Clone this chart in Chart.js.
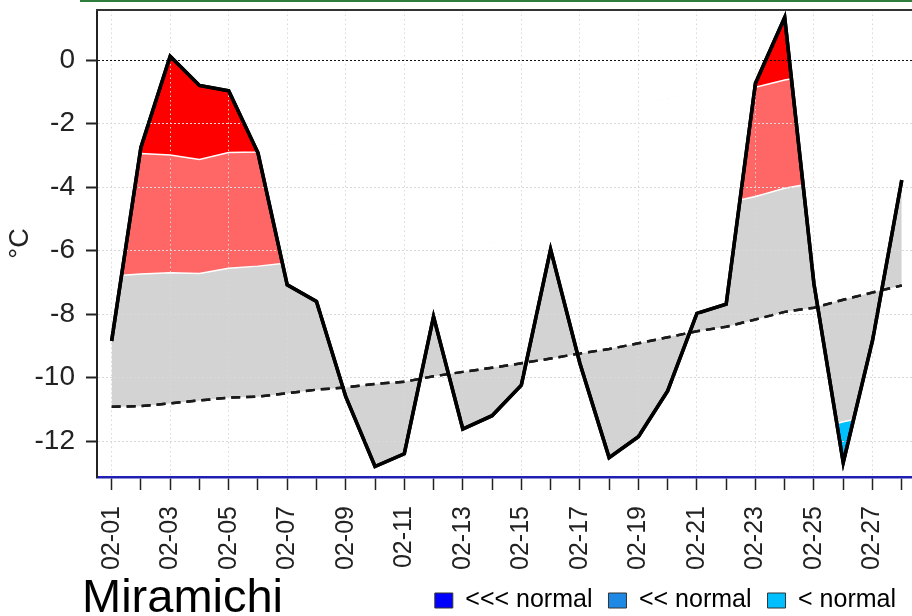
<!DOCTYPE html>
<html>
<head>
<meta charset="utf-8">
<script src="https://cdn.jsdelivr.net/npm/chart.js@4.4.1/dist/chart.umd.min.js"></script>
<style>
  body { margin: 0; background: #fff; }
  #wrap { position: relative; width: 912px; height: 616px; overflow: hidden; }
  #temp-chart { display: block; }
  #topline { position: absolute; left: 80px; right: 0; top: 0; height: 2px; background: #2e7d3a; }
  #station { position: absolute; left: 82px; top: 572px; font: 47px/47px 'Liberation Sans', Arial, sans-serif; color: #000; }
</style>
</head>
<body>
<div id="wrap">
  <canvas id="temp-chart" width="912" height="616"></canvas>
  <div id="topline"></div>
  <div id="station">Miramichi</div>
</div>
<script>
// days of february
var dayLabels = ["02-01", "02-02", "02-03", "02-04", "02-05", "02-06", "02-07",
  "02-08", "02-09", "02-10", "02-11", "02-12", "02-13", "02-14",
  "02-15", "02-16", "02-17", "02-18", "02-19", "02-20", "02-21",
  "02-22", "02-23", "02-24", "02-25", "02-26", "02-27", "02-28"];

// observed daily temperature
var actualTemp = [-8.85, -2.75, 0.12, -0.8, -0.97, -2.92, -7.08,
  -7.6, -10.6, -12.8, -12.4, -8.08, -11.62, -11.2,
  -10.24, -5.96, -9.55, -12.52, -11.86, -10.42, -7.98,
  -7.69, -0.73, 1.34, -7.05, -12.68, -8.84, -3.78];

// climate normal (dashed line)
var normalTemp = [-10.92, -10.9, -10.81, -10.72, -10.63, -10.6, -10.49,
  -10.38, -10.31, -10.2, -10.13, -9.96, -9.82, -9.69,
  -9.55, -9.4, -9.24, -9.1, -8.92, -8.73, -8.54,
  -8.4, -8.17, -7.93, -7.8, -7.55, -7.32, -7.1];

// band limits: "> normal", ">> normal" and "< normal"
var aboveOne = [-6.8, -6.74, -6.7, -6.72, -6.56, -6.49, -6.39,
  -6.3, -6.25, -6.15, -6.1, -5.95, -5.85, -5.75,
  -5.6, -5.45, -5.3, -5.2, -5.0, -4.85, -4.65,
  -4.5, -4.3, -4.04, -3.87, -3.65, -3.4, -3.2];
var aboveTwo = [-3.1, -2.94, -2.99, -3.13, -2.91, -2.9, -2.8,
  -2.7, -2.65, -2.55, -2.5, -2.35, -2.2, -2.1,
  -1.95, -1.8, -1.65, -1.5, -1.35, -1.2, -1.05,
  -0.95, -0.86, -0.63, -0.47, -0.25, -0.05, 0.2];
var belowOne = [-14.8, -14.8, -14.7, -14.6, -14.5, -14.5, -14.4,
  -14.3, -14.2, -14.1, -14.0, -13.9, -13.7, -13.6,
  -13.45, -13.3, -13.15, -13.0, -12.8, -12.6, -12.45,
  -12.3, -12.1, -11.85, -11.65, -11.39, -11.2, -11.0];

var yTicks = [-12, -10, -8, -6, -4, -2, 0];
var legendLabels = ["<<< normal", "<< normal", "< normal"];

// colours
var legendColors = ["#0000ff", "#1e88e5", "#00bfff"];
var greyFill = "#d3d3d3";
var lightRed = "#ff6666";
var darkRed = "#ff0000";
var cyanFill = "#00bfff";
var gridColor = "#d9d9d9";
var none = "rgba(0,0,0,0)";
var sansFont = "'Liberation Sans', Arial, sans-serif";

function toPoints(values) {
  return values.map(function (v, i) {
    return { x: i + 1, y: v };
  });
}

function fillCopy(target, above, below) {
  return {
    data: toPoints(actualTemp),
    borderWidth: 0,
    borderColor: none,
    fill: { target: target, above: above, below: below }
  };
}

function bandLine(values) {
  return {
    data: toPoints(values),
    borderWidth: 1.5,
    borderColor: "#ffffff",
    fill: false
  };
}

// plot frame on top, then the temperature lines again over the grid
var linesOnTop = {
  id: "linesOnTop",
  afterDraw: function (chart) {
    var ctx = chart.ctx;
    var a = chart.chartArea;
    ctx.save();
    ctx.strokeStyle = "#333";
    ctx.lineWidth = 2;
    ctx.beginPath();
    ctx.moveTo(a.left - 1, a.top);
    ctx.lineTo(chart.width, a.top);
    ctx.stroke();
    ctx.beginPath();
    ctx.rect(a.left, a.top, a.right - a.left, a.bottom - a.top);
    ctx.clip();
    chart.getDatasetMeta(1).controller.draw();
    chart.getDatasetMeta(0).controller.draw();
    ctx.restore();
  }
};

var ctx = document.getElementById("temp-chart").getContext("2d");

new Chart(ctx, {
  type: "line",
  data: {
    datasets: [
      { data: toPoints(actualTemp), borderColor: "#000", borderWidth: 3.5, fill: false },
      { data: toPoints(normalTemp), borderColor: "#1a1a1a", borderWidth: 2.5, borderDash: [9, 6], fill: false },
      bandLine(aboveOne),
      bandLine(aboveTwo),
      bandLine(belowOne),
      fillCopy(4, none, cyanFill),
      fillCopy(3, darkRed, none),
      fillCopy(2, lightRed, none),
      fillCopy(1, greyFill, greyFill)
    ]
  },
  options: {
    responsive: false,
    animation: false,
    layout: { padding: { top: 10, left: 0, right: 0, bottom: -7 } },
    elements: { point: { radius: 0 }, line: { tension: 0 } },
    plugins: {
      tooltip: { enabled: false },
      filler: { propagate: false },
      legend: {
        position: "bottom",
        align: "end",
        labels: {
          boxWidth: 18,
          boxHeight: 15,
          padding: 16,
          color: "#222",
          font: { family: sansFont, size: 25 },
          generateLabels: function () {
            return legendLabels.map(function (t, i) {
              return { text: t, fillStyle: legendColors[i], strokeStyle: "#333", lineWidth: 1, hidden: false };
            });
          }
        }
      }
    },
    scales: {
      x: {
        type: "linear",
        bounds: "data",
        min: 0.5,
        max: 28.35,
        afterBuildTicks: function (scale) {
          scale.ticks = dayLabels.map(function (d, i) {
            return { value: i + 1 };
          });
        },
        afterFit: function (scale) {
          scale.height = 95;
          scale.paddingLeft = 0;
          scale.paddingRight = 0;
        },
        ticks: {
          autoSkip: false,
          minRotation: 90,
          maxRotation: 90,
          padding: 16,
          color: "#222",
          font: { family: sansFont, size: 25 },
          callback: function (value, index) {
            return index % 2 === 0 ? dayLabels[index] : "";
          }
        },
        grid: {
          z: 1,
          color: function (c) {
            return c.index % 2 === 0 ? gridColor : none;
          },
          lineWidth: 1,
          tickLength: 13,
          tickColor: "#222",
          tickWidth: 1.5
        },
        border: { z: 1, color: "#1f1fb4", width: 2.5, dash: [1.5, 3] }
      },
      y: {
        bounds: "data",
        min: -13.13,
        max: 1.575,
        afterBuildTicks: function (scale) {
          scale.ticks = yTicks.map(function (v) {
            return { value: v };
          });
        },
        afterFit: function (scale) {
          scale.width = 97;
          scale.paddingTop = 0;
          scale.paddingBottom = 0;
        },
        ticks: {
          padding: 11,
          color: "#222",
          font: { family: sansFont, size: 28 }
        },
        grid: {
          z: 1,
          color: function (c) {
            return c.tick && c.tick.value === 0 ? "#111" : gridColor;
          },
          lineWidth: 1,
          tickLength: 11,
          tickColor: "#222",
          tickWidth: 2
        },
        border: { z: 1, color: "#222", width: 2, dash: [2, 2] },
        title: {
          display: true,
          text: "°C",
          color: "#222",
          font: { family: sansFont, size: 27 },
          padding: { top: 4, bottom: 0 }
        }
      }
    }
  },
  plugins: [linesOnTop]
});
</script>
</body>
</html>
